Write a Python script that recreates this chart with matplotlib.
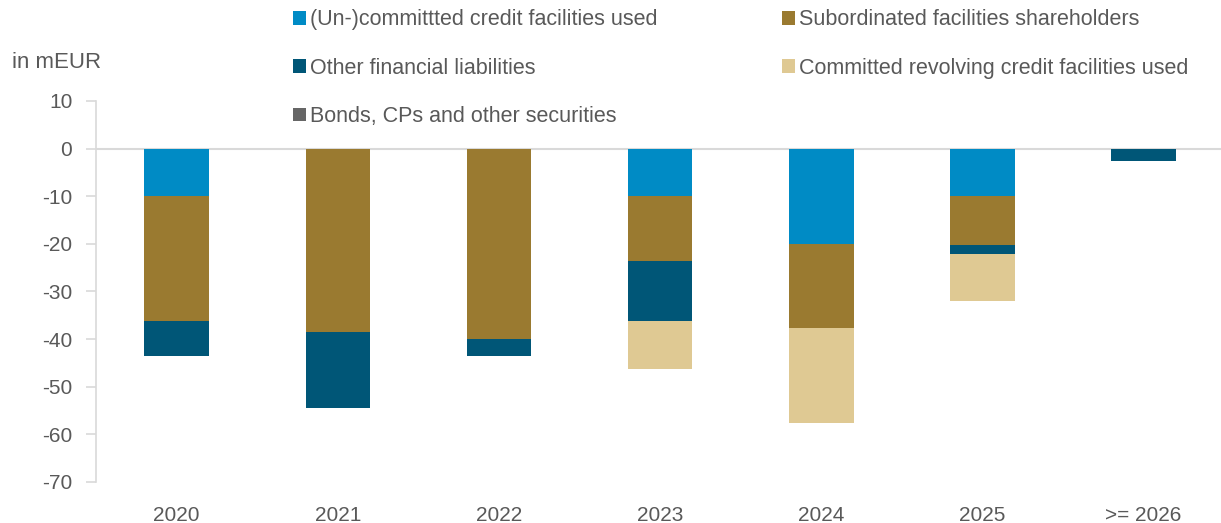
import matplotlib.pyplot as plt
import numpy as np

plt.rcParams['font.family'] = ['Liberation Sans', 'DejaVu Sans']
plt.rcParams['axes.unicode_minus'] = False

years = ['2020', '2021', '2022', '2023', '2024', '2025', '>= 2026']
uncommitted = [-10, 0, 0, -10, -20, -10, 0]
subordinated = [-26.3, -38.6, -40.0, -13.5, -17.7, -10.2, 0]
other_fin = [-7.2, -15.9, -3.6, -12.7, 0, -2.0, -2.5]
revolving = [0, 0, 0, -10.0, -20.0, -9.9, 0]
bonds = [0, 0, 0, 0, 0, 0, 0]

series = [
    ('(Un-)committted credit facilities used', uncommitted, '#008BC5'),
    ('Subordinated facilities shareholders', subordinated, '#9A7A30'),
    ('Other financial liabilities', other_fin, '#005677'),
    ('Committed revolving credit facilities used', revolving, '#DFC993'),
    ('Bonds, CPs and other securities', bonds, '#666666'),
]

txt = '#595959'
fig = plt.figure(figsize=(12.21, 5.23), dpi=100)
ax = fig.add_axes([0.0786, 0.0784, 0.9214, 0.7285])

x = np.arange(len(years))
bottom = np.zeros(len(years))
handles = {}
for name, vals, col in series:
    v = np.array(vals)
    b = ax.bar(x, v, 0.4, bottom=bottom, color=col, label=name, zorder=2)
    handles[name] = b
    bottom = bottom + v

ax.set_ylim(-70, 10)
ax.set_xlim(-0.5, 6.48)
ax.set_yticks(range(-70, 11, 10))
ax.set_xticks(x)
ax.set_xticklabels(years)
ax.axhline(0, color='#D9D9D9', lw=1.5, zorder=1)
for s in ['top', 'right', 'bottom']:
    ax.spines[s].set_visible(False)
ax.spines['left'].set_color('#D9D9D9')
ax.spines['left'].set_linewidth(1.2)
ax.tick_params(axis='y', colors='#D9D9D9', labelcolor=txt, labelsize=15, length=7, width=1.2, pad=10)
ax.tick_params(axis='x', length=0, labelcolor=txt, labelsize=15, pad=17)

fig.text(0.01, 0.881, 'in mEUR', fontsize=16, color=txt, va='center')

order = ['(Un-)committted credit facilities used', 'Other financial liabilities',
         'Bonds, CPs and other securities', 'Subordinated facilities shareholders',
         'Committed revolving credit facilities used']
leg = fig.legend([handles[n] for n in order], order, ncol=2, loc='upper left',
                 bbox_to_anchor=(0.24, 0.982), frameon=False, fontsize=15.5,
                 handlelength=0.6, handleheight=0.6, handletextpad=0.2,
                 labelspacing=1.27, columnspacing=5.76, borderpad=0, borderaxespad=0)
for t in leg.get_texts():
    t.set_color(txt)

fig.savefig('out.png', dpi=100)
